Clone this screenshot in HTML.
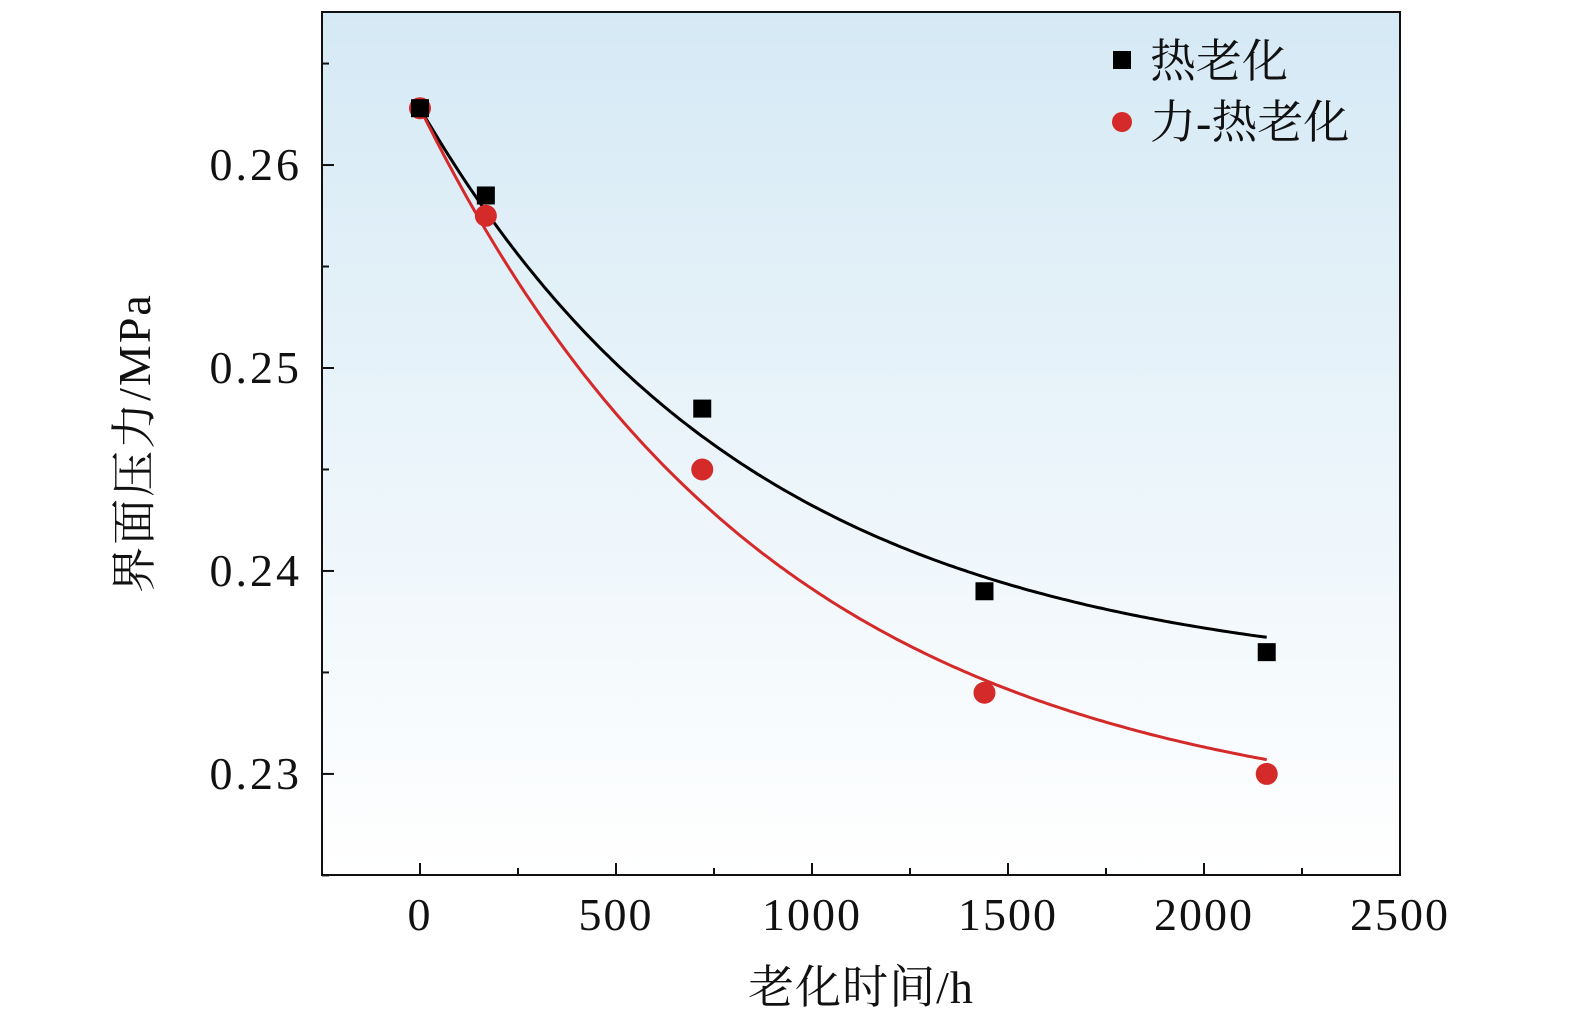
<!DOCTYPE html>
<html><head><meta charset="utf-8"><style>
html,body{margin:0;padding:0;background:#fff;}
svg{display:block;}
text{font-family:"Liberation Serif","Noto Serif CJK SC",serif;fill:#111;}
</style></head><body>
<svg id="chart" width="1575" height="1033" viewBox="0 0 1575 1033" xmlns="http://www.w3.org/2000/svg">
<defs><linearGradient id="bg" x1="0" y1="0" x2="0" y2="1"><stop offset="0" stop-color="#d5e9f5"/><stop offset="1" stop-color="#ffffff"/></linearGradient></defs>
<rect x="322" y="12" width="1078" height="863" fill="url(#bg)"/>
<g id="ticks"></g>
<g id="curves"></g>
<g id="marks"></g>
<rect x="322" y="12" width="1078" height="863" fill="none" stroke="#111" stroke-width="2"/>
<text x="861" y="1003" font-size="46" text-anchor="middle" letter-spacing="1">老化时间/h</text>
<text transform="translate(150,443) rotate(-90)" font-size="46" text-anchor="middle" letter-spacing="2">界面压力/MPa</text>
<rect x="1113" y="51" width="18" height="18" fill="#000"/>
<text x="1150" y="77" font-size="46">热老化</text>
<circle cx="1122" cy="122" r="10" fill="#d42a2a"/>
<text x="1150" y="138" font-size="46">力-热老化</text>
</svg>
<script>
const hours=[0,168,720,1440,2160];
const heatValues=[0.2628,0.2585,0.248,0.239,0.236];
const forceHeatValues=[0.2628,0.2575,0.245,0.234,0.230];
const heatFit=[0.2345,0.0283,850];
const forceHeatFit=[0.2275,0.0353,900];
const xTicks=[0,500,1000,1500,2000,2500];
const yTicks=[0.23,0.24,0.25,0.26];
const X0=322,X1=1400,Y0=875,Y1=12,xmin=-250,xmax=2500,ymin=0.22502,ymax=0.26754;
const sx=v=>X0+(v-xmin)/(xmax-xmin)*(X1-X0);
const sy=v=>Y0-(v-ymin)/(ymax-ymin)*(Y0-Y1);
const NS="http://www.w3.org/2000/svg";
function mk(tag,attrs,parent){const e=document.createElementNS(NS,tag);for(const k in attrs)e.setAttribute(k,attrs[k]);parent.appendChild(e);return e;}
const tg=document.getElementById('ticks');
for(let v=-250;v<=2500;v+=250){const x=sx(v);const major=v%500===0;
 const t=mk('line',{x1:x,x2:x,y1:Y0,y2:Y0-(major?12:7),stroke:'#111','stroke-width':2},tg);
 
 }
xTicks.forEach(v=>{const t=mk('text',{x:sx(v),y:930,'font-size':46,'text-anchor':'middle','letter-spacing':2},tg);t.textContent=v;
 
 });
for(let i=0;i<=8;i++){const v=0.225+i*0.005;if(v>ymax)break;const y=sy(v);const major=i%2===1;
 const t=mk('line',{x1:X0,x2:X0+(major?12:7),y1:y,y2:y,stroke:'#111','stroke-width':2},tg);
 
 }
yTicks.forEach(v=>{const t=mk('text',{x:302,y:sy(v)+15,'font-size':46,'text-anchor':'end','letter-spacing':3},tg);t.textContent=v.toFixed(2);
 
 });
const cg=document.getElementById('curves');
function curve(p,color,name){let d='';for(let x=0;x<=2160;x+=10){const y=p[0]+p[1]*Math.exp(-x/p[2]);d+=(x?'L':'M')+sx(x).toFixed(1)+','+sy(y).toFixed(1);}
 const e=mk('path',{d:d,fill:'none',stroke:color,'stroke-width':3},cg);
 
 }
curve(heatFit,'#000','heat-fit-curve');
curve(forceHeatFit,'#d42a2a','force-heat-fit-curve');
const mg=document.getElementById('marks');
hours.forEach((h,i)=>{const x=sx(h),y=sy(forceHeatValues[i]);
 const c=mk('circle',{cx:x,cy:y,r:11,fill:'#d42a2a'},mg);
 
 });
hours.forEach((h,i)=>{const x=sx(h),y=sy(heatValues[i]);
 const r=mk('rect',{x:x-9,y:y-9,width:18,height:18,fill:'#000'},mg);
 
 });
</script>
</body></html>
